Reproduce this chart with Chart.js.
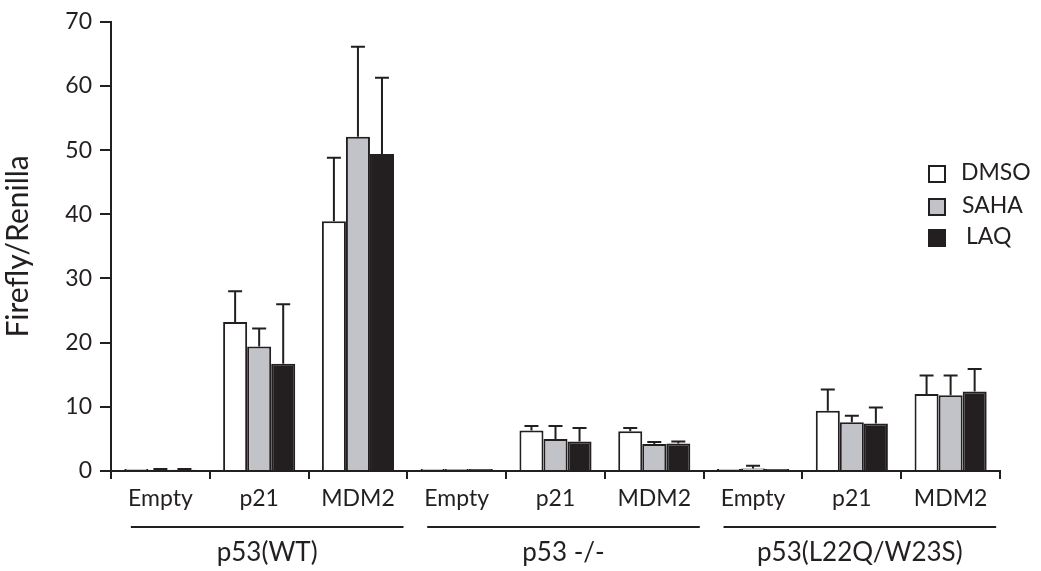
<!DOCTYPE html>
<html>
<head>
<meta charset="utf-8">
<script src="https://cdn.jsdelivr.net/npm/chart.js@4"></script>
<style>
  html, body { margin: 0; padding: 0; background: #fff; }
  #wrap { width: 1041px; height: 571px; }
</style>
</head>
<body>
<div id="wrap"><canvas id="chart" width="1041" height="571"></canvas></div>
<script>
const categories = ["Empty", "p21", "MDM2", "Empty", "p21", "MDM2", "Empty", "p21", "MDM2"];
const groups = ["p53(WT)", "p53 -/-", "p53(L22Q/W23S)"];
const seriesNames = ["DMSO", "SAHA", "LAQ"];

const dmso = [0.3, 23.2, 38.9, 0.3, 6.3, 6.2, 0.3, 9.4, 12.0];
const saha = [0.2, 19.4, 52.1, 0.3, 5.0, 4.2, 0.4, 7.6, 11.8];
const laq  = [0.2, 16.7, 49.4, 0.3, 4.6, 4.3, 0.3, 7.4, 12.4];

const dmsoErr = [0.0, 4.8, 9.9, 0.0, 0.7, 0.5, 0.0, 3.3, 2.9];
const sahaErr = [0.1, 2.8, 14.0, 0.0, 2.0, 0.3, 0.4, 1.0, 3.1];
const laqErr  = [0.1, 9.3, 11.9, 0.0, 2.1, 0.3, 0.0, 2.5, 3.5];

const yTicks = [0, 10, 20, 30, 40, 50, 60, 70];

const INK = "#231f20";
const FONT = "Lato, 'Open Sans', sans-serif";

// upward error bars
const errorBars = {
  id: "errorBars",
  afterDatasetsDraw(chart) {
    const ctx = chart.ctx;
    const y = chart.scales.y;
    chart.data.datasets.forEach((ds, i) => {
      const meta = chart.getDatasetMeta(i);
      meta.data.forEach((bar, j) => {
        const e = ds.errors[j];
        if (!e) return;
        const top = y.getPixelForValue(ds.data[j] + e);
        ctx.save();
        ctx.strokeStyle = INK;
        ctx.lineWidth = 2;
        ctx.beginPath();
        ctx.moveTo(bar.x, bar.y);
        ctx.lineTo(bar.x, top);
        ctx.moveTo(bar.x - 7, top);
        ctx.lineTo(bar.x + 7, top);
        ctx.stroke();
        ctx.restore();
      });
    });
  }
};

// group labels with underline
const groupLabels = {
  id: "groupLabels",
  afterDraw(chart) {
    const ctx = chart.ctx;
    const x = chart.scales.x;
    const step = x.getPixelForValue(1) - x.getPixelForValue(0);
    ctx.save();
    ctx.strokeStyle = INK;
    ctx.fillStyle = INK;
    ctx.lineWidth = 2;
    ctx.font = "26px " + FONT;
    ctx.textAlign = "center";
    ctx.textBaseline = "middle";
    groups.forEach((g, k) => {
      const c = x.getPixelForValue(k * 3 + 1) + 8;
      ctx.beginPath();
      ctx.moveTo(c - step * 1.38, 527);
      ctx.lineTo(c + step * 1.38, 527);
      ctx.stroke();
      ctx.fillText(g, c, 553);
    });
    ctx.restore();
  }
};

// legend inside the plot
const boxLegend = {
  id: "boxLegend",
  afterDraw(chart) {
    const ctx = chart.ctx;
    const rows = [174, 207, 238];
    ctx.save();
    ctx.font = "23px " + FONT;
    ctx.textBaseline = "middle";
    chart.data.datasets.forEach((ds, i) => {
      const cy = rows[i];
      ctx.fillStyle = ds.backgroundColor;
      ctx.fillRect(929, cy - 8, 16, 16);
      ctx.strokeStyle = INK;
      ctx.lineWidth = 2;
      ctx.strokeRect(929, cy - 8, 16, 16);
      ctx.fillStyle = INK;
      ctx.fillText(ds.label, 961 + (i === 2 ? 5 : i), cy - 1);
    });
    ctx.restore();
  }
};

const mk = (i, data, errs, color) => ({
  label: seriesNames[i],
  data: data,
  errors: errs,
  backgroundColor: color,
  borderColor: INK,
  borderWidth: 2,
  categoryPercentage: 0.73,
  barPercentage: 1.0
});

new Chart(document.getElementById("chart"), {
  type: "bar",
  data: {
    labels: categories,
    datasets: [
      mk(0, dmso, dmsoErr, "#ffffff"),
      mk(1, saha, sahaErr, "#c1c3c9"),
      mk(2, laq, laqErr, INK)
    ]
  },
  options: {
    responsive: false,
    animation: false,
    layout: { padding: { top: 14, right: 41, left: 0, bottom: 0 } },
    plugins: {
      legend: { display: false },
      tooltip: { enabled: false }
    },
    scales: {
      x: {
        offset: true,
        grid: { offset: true, drawOnChartArea: false, tickLength: 8, color: INK, lineWidth: 2 },
        border: { color: INK, width: 2 },
        ticks: { color: INK, font: { family: FONT, size: 23 }, padding: 6, maxRotation: 0 },
        afterFit(s) { s.height = 100; }
      },
      y: {
        min: 0,
        max: 70,
        afterBuildTicks(s) { s.ticks = yTicks.map(v => ({ value: v })); },
        grid: { drawOnChartArea: false, tickLength: 11, color: INK, lineWidth: 2 },
        border: { color: INK, width: 2 },
        ticks: { color: INK, font: { family: FONT, size: 23 }, padding: 8 },
        title: { display: true, text: "Firefly/Renilla", color: INK, font: { family: FONT, size: 30 }, padding: { top: 0, bottom: 4 } },
        afterFit(s) { s.width = 111; }
      }
    }
  },
  plugins: [errorBars, groupLabels, boxLegend]
});
</script>
</body>
</html>
